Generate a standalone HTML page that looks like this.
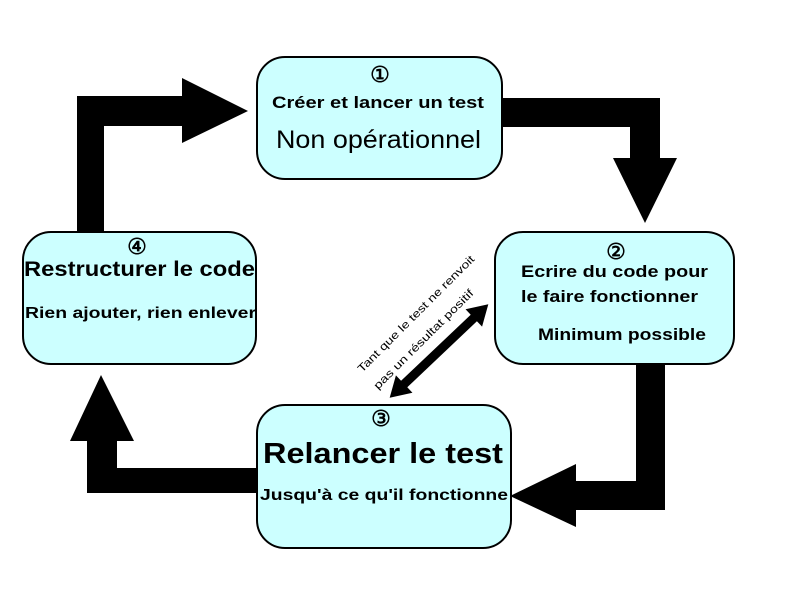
<!DOCTYPE html>
<html><head><meta charset="utf-8"><style>html,body{margin:0;padding:0;background:#fff}svg{display:block}</style></head>
<body>
<svg width="800" height="600" viewBox="0 0 800 600" xmlns="http://www.w3.org/2000/svg" font-family="Liberation Sans, Arial, sans-serif">
<rect width="800" height="600" fill="#fff"/>
<polygon points="77,233 104,233 104,126 182,126 182,143 248,111 182,78 182,96 77,96" fill="#000"/>
<polygon points="502,98 660,98 660,158 677,158 645,223 613,158 630,158 630,127 502,127" fill="#000"/>
<polygon points="636,364 665,364 665,510 576,510 576,527 510,496 576,464 576,481 636,481" fill="#000"/>
<polygon points="257,468 117,468 117,441 134,441 101,375 70,441 87,441 87,493 257,493" fill="#000"/>
<g transform="translate(439,351) rotate(-43.5)">
<polygon points="-68,0 -48,-12 -48,-4.5 48,-4.5 48,-12 68,0 48,12 48,4.5 -48,4.5 -48,12" fill="#000"/>
</g>
<g font-size="11" fill="#000">
<text transform="translate(362,373) rotate(-45)" textLength="160" lengthAdjust="spacingAndGlyphs">Tant que le test ne renvoit</text>
<text transform="translate(378,390) rotate(-45)" textLength="136" lengthAdjust="spacingAndGlyphs">pas un résultat positif</text>
</g>
<g fill="#ccffff" stroke="#000" stroke-width="2">
<rect x="257" y="57" width="245" height="122" rx="28"/>
<rect x="495" y="232" width="239" height="132" rx="28"/>
<rect x="257" y="405" width="254" height="143" rx="28"/>
<rect x="23" y="232" width="233" height="132" rx="28"/>
</g>
<g fill="#000" font-weight="bold">
<g font-size="22" font-weight="normal" text-anchor="middle" stroke="#000" stroke-width="0.6">
<text x="380" y="82">①</text>
<text x="616" y="259">②</text>
<text x="381" y="426">③</text>
<text x="137" y="254">④</text>
</g>
<text x="272" y="108" font-size="17" textLength="212" lengthAdjust="spacingAndGlyphs">Créer et lancer un test</text>
<text x="276" y="148" font-size="25" font-weight="normal" textLength="205" lengthAdjust="spacingAndGlyphs">Non opérationnel</text>
<text x="521" y="277" font-size="17" textLength="187" lengthAdjust="spacingAndGlyphs">Ecrire du code pour</text>
<text x="521" y="302" font-size="17" textLength="177" lengthAdjust="spacingAndGlyphs">le faire fonctionner</text>
<text x="538" y="340" font-size="17" textLength="168" lengthAdjust="spacingAndGlyphs">Minimum possible</text>
<text x="263" y="463" font-size="29" textLength="240" lengthAdjust="spacingAndGlyphs">Relancer le test</text>
<text x="260" y="500" font-size="16" textLength="248" lengthAdjust="spacingAndGlyphs">Jusqu'à ce qu'il fonctionne</text>
<text x="24" y="276" font-size="21" textLength="231" lengthAdjust="spacingAndGlyphs">Restructurer le code</text>
<text x="25" y="318" font-size="16" textLength="231" lengthAdjust="spacingAndGlyphs">Rien ajouter, rien enlever</text>
</g>
</svg>
</body></html>
